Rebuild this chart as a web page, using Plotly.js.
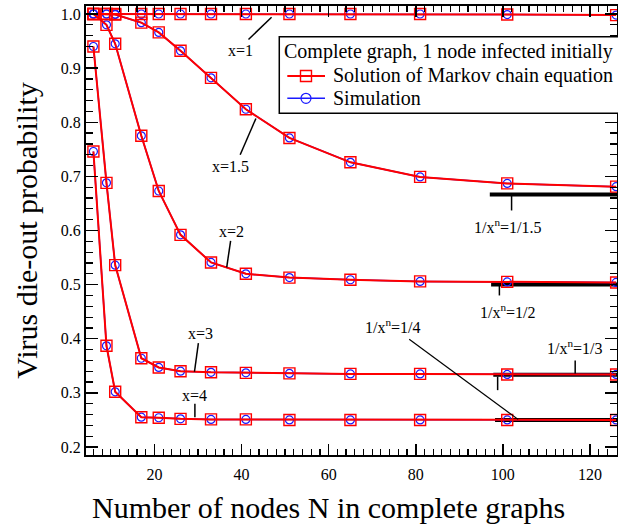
<!DOCTYPE html>
<html>
<head>
<meta charset="utf-8">
<script src="https://cdn.plot.ly/plotly-3.0.1.min.js"></script>
<style>
  html, body { margin: 0; padding: 0; background: #fff; }
  #chart { width: 618px; height: 527px; }
</style>
</head>
<body>
<div id="chart"></div>
<script>
// Number of nodes N of the complete graphs
const nodes = [6, 9, 11, 17, 21, 26, 33, 41, 51, 65, 81, 101, 126];

// Die-out probability, solution of the Markov chain equation
const markovX1   = [1.000, 1.000, 1.000, 1.000, 1.000, 1.000, 1.000, 1.000, 1.000, 1.000, 1.000, 0.999, 0.998];
const markovX15  = [1.000, 1.000, 0.999, 0.984, 0.966, 0.932, 0.882, 0.824, 0.771, 0.726, 0.699, 0.687, 0.681];
const markovX2   = [1.000, 0.980, 0.945, 0.775, 0.673, 0.592, 0.541, 0.520, 0.513, 0.509, 0.506, 0.505, 0.504];
const markovX3   = [0.940, 0.688, 0.536, 0.364, 0.347, 0.340, 0.338, 0.337, 0.336, 0.335, 0.335, 0.334, 0.334];
const markovX4   = [0.746, 0.387, 0.302, 0.255, 0.254, 0.252, 0.251, 0.251, 0.250, 0.250, 0.250, 0.250, 0.250];

// Die-out probability from simulation
const simX1  = [1.000, 1.000, 1.000, 1.000, 1.000, 1.000, 1.000, 1.000, 1.000, 1.000, 1.000, 0.999, 0.998];
const simX15 = [1.000, 1.000, 0.999, 0.984, 0.966, 0.932, 0.882, 0.824, 0.771, 0.726, 0.699, 0.687, 0.681];
const simX2  = [1.000, 0.980, 0.945, 0.775, 0.673, 0.592, 0.541, 0.520, 0.513, 0.509, 0.506, 0.505, 0.504];
const simX3  = [0.940, 0.688, 0.536, 0.364, 0.347, 0.340, 0.338, 0.337, 0.336, 0.335, 0.335, 0.334, 0.334];
const simX4  = [0.746, 0.387, 0.302, 0.255, 0.254, 0.252, 0.251, 0.251, 0.250, 0.250, 0.250, 0.250, 0.250];

// Large-N limits 1/x^n and where each limit bar begins
const limitValues = [1 / 1.5, 1 / 2, 1 / 3, 1 / 4];
const limitStartN = [97.0, 97.3, 97.8, 98.2];
const limitEndN = 127;

const yTickVals = [0.2, 0.3, 0.4, 0.5, 0.6, 0.7, 0.8, 0.9, 1.0];
const xTickVals = [20, 40, 60, 80, 100, 120];

const legendTitle = 'Complete graph, 1 node infected initially';
const markovName = 'Solution of Markov chain equation';
const simName = 'Simulation';

const FONT = 'Liberation Serif, Times New Roman, serif';
const RED = '#ff0000';
const BLUE = '#1a1aff';

const traces = [];

// thick black limit bars
limitValues.forEach((v, i) => {
  traces.push({
    x: [limitStartN[i], limitEndN], y: [v, v],
    mode: 'lines', line: { color: '#000', width: 4 },
    showlegend: false, hoverinfo: 'skip'
  });
});

const markovSeries = [markovX1, markovX15, markovX2, markovX3, markovX4];
const simSeries = [simX1, simX15, simX2, simX3, simX4];

simSeries.forEach((ys) => {
  traces.push({
    x: nodes, y: ys, name: simName,
    mode: 'lines+markers',
    line: { color: BLUE, width: 1.5 },
    marker: { symbol: 'circle-open', size: 8, color: BLUE, line: { width: 1.2 } },
    showlegend: false
  });
});
markovSeries.forEach((ys) => {
  traces.push({
    x: nodes, y: ys, name: markovName,
    mode: 'lines+markers',
    line: { color: RED, width: 2 },
    marker: { symbol: 'square-open', size: 11, color: RED, line: { width: 1.4 } },
    showlegend: false
  });
});

// leader lines from labels to curves
const leader = (x0, y0, x1, y1, w) => ({
  type: 'line', xref: 'x', yref: 'y', x0, y0, x1, y1,
  line: { color: '#000', width: w || 1.5 }
});
const shapes = [
  leader(41.6, 0.953, 46.9, 0.994),
  leader(39.7, 0.740, 43.3, 0.807),
  leader(37.5, 0.581, 36.6, 0.532),
  leader(30.1, 0.392, 29.2, 0.339),
  leader(29.3, 0.280, 29.3, 0.255),
  leader(102.0, 0.669, 102.0, 0.637),
  leader(99.2, 0.499, 99.2, 0.480),
  leader(116.6, 0.360, 116.6, 0.336),
  leader(98.8, 0.330, 98.8, 0.305),
  leader(78.5, 0.399, 103.5, 0.251, 1.2)
];

// legend box with its two keys
const LG = { x0: 0.364, x1: 1.02, yTop: 0.9316, yBot: 0.761, keyX0: 0.3791, keyX1: 0.4501, keyMid: 0.4143, textX: 0.4657, row1: 0.8441, row2: 0.7944, titleY: 0.8982 };
shapes.push(
  { type: 'rect', xref: 'paper', yref: 'paper', x0: LG.x0, x1: LG.x1, y0: LG.yBot, y1: LG.yTop,
    fillcolor: '#fff', line: { color: '#000', width: 1.5 }, layer: 'above' },
  { type: 'line', xref: 'paper', yref: 'paper', x0: LG.keyX0, x1: LG.keyX1, y0: LG.row1, y1: LG.row1,
    line: { color: RED, width: 2 } },
  { type: 'rect', xref: 'paper', yref: 'paper', xsizemode: 'pixel', ysizemode: 'pixel',
    xanchor: LG.keyMid, yanchor: LG.row1, x0: -5.5, x1: 5.5, y0: -5.5, y1: 5.5,
    line: { color: RED, width: 1.4 }, fillcolor: 'rgba(0,0,0,0)' },
  { type: 'line', xref: 'paper', yref: 'paper', x0: LG.keyX0, x1: LG.keyX1, y0: LG.row2, y1: LG.row2,
    line: { color: BLUE, width: 1.5 } },
  { type: 'circle', xref: 'paper', yref: 'paper', xsizemode: 'pixel', ysizemode: 'pixel',
    xanchor: LG.keyMid, yanchor: LG.row2, x0: -5, x1: 5, y0: -5, y1: 5,
    line: { color: BLUE, width: 1.2 }, fillcolor: 'rgba(0,0,0,0)' }
);

const lab = (x, y, text) => ({
  x, y, xref: 'x', yref: 'y', text, showarrow: false,
  font: { family: FONT, size: 16, color: '#000' }
});
const legText = (x, y, text) => ({
  x, y, xref: 'paper', yref: 'paper', xanchor: 'left', yanchor: 'middle',
  text, showarrow: false, font: { family: FONT, size: 20, color: '#000' }
});
const annotations = [
  lab(39.8, 0.9335, 'x=1'),
  lab(37.4, 0.718, 'x=1.5'),
  lab(37.8, 0.598, 'x=2'),
  lab(30.5, 0.409, 'x=3'),
  lab(29.3, 0.296, 'x=4'),
  lab(101.2, 0.608, '1/x<sup>n</sup>=1/1.5'),
  lab(101.2, 0.451, '1/x<sup>n</sup>=1/2'),
  lab(116.6, 0.384, '1/x<sup>n</sup>=1/3'),
  lab(74.8, 0.423, '1/x<sup>n</sup>=1/4'),
  legText(0.3729 - 0.004, LG.titleY, legendTitle),
  legText(LG.textX - 0.004, LG.row1, markovName),
  legText(LG.textX - 0.004, LG.row2, simName),
  {
    xref: 'paper', yref: 'paper', x: 0.4576, y: -0.118, xanchor: 'center', yanchor: 'middle',
    text: 'Number of nodes N in complete graphs', showarrow: false,
    font: { family: FONT, size: 30, color: '#000' }
  }
];

const axisCommon = {
  showline: true, linecolor: '#000', linewidth: 2, mirror: 'allticks',
  ticks: 'inside', tickcolor: '#000', tickwidth: 1.5,
  showgrid: false, zeroline: false,
  tickfont: { family: FONT, size: 16, color: '#000' }
};

const layout = {
  width: 618, height: 527,
  margin: { l: 86, r: 1, t: 6, b: 72 },
  paper_bgcolor: '#fff', plot_bgcolor: '#fff',
  font: { family: FONT, color: '#000' },
  xaxis: Object.assign({}, axisCommon, {
    range: [4.3, 126.2], tickvals: xTickVals, ticklen: 11, ticklabelstandoff: 4,
    minor: { dtick: 2, tick0: 0, ticks: 'inside', ticklen: 6, tickcolor: '#000', tickwidth: 1.2 }
  }),
  yaxis: Object.assign({}, axisCommon, {
    range: [0.1852, 1.0148], tickvals: yTickVals, tickformat: '.1f', ticklen: 12,
    minor: { dtick: 0.02, tick0: 0, ticks: 'inside', ticklen: 7, tickcolor: '#000', tickwidth: 1.2 },
    title: { text: 'Virus die-out probability', font: { family: FONT, size: 30, color: '#000' }, standoff: 14 }
  }),
  shapes, annotations,
  showlegend: false
};

Plotly.newPlot('chart', traces, layout, { displayModeBar: false, staticPlot: true });
</script>
</body>
</html>
